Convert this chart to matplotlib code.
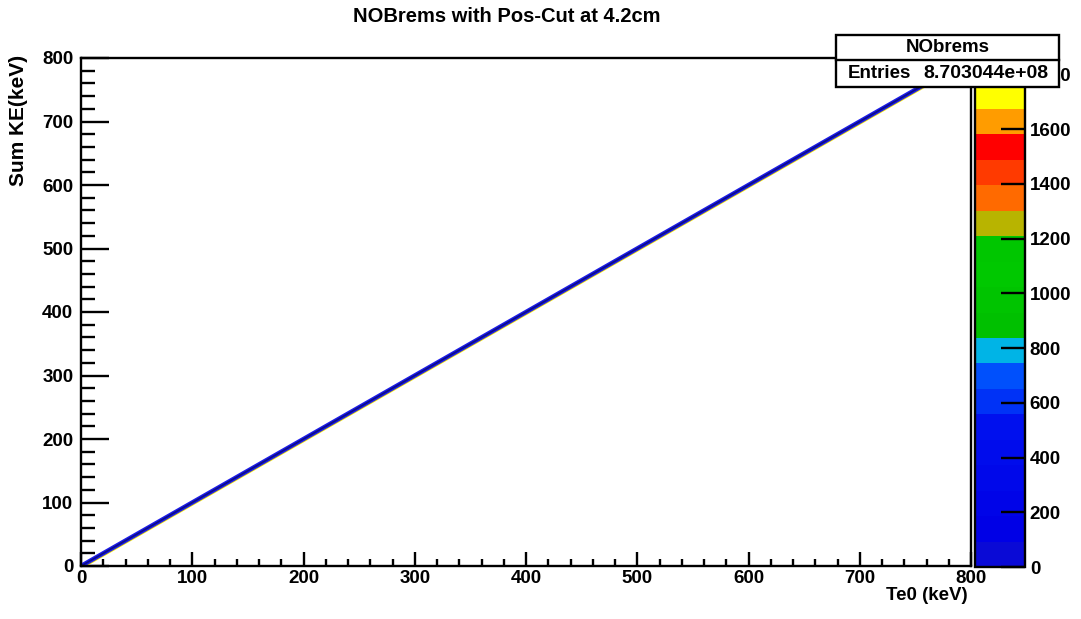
import numpy as np
import matplotlib
matplotlib.use("Agg")
import matplotlib.pyplot as plt
import matplotlib.patheffects as pe
from matplotlib.colors import ListedColormap, BoundaryNorm
from matplotlib.cm import ScalarMappable
from matplotlib.patches import Rectangle
from matplotlib.lines import Line2D

# ---- data -------------------------------------------------------------
te0 = [0, 800]          # Te0 (keV) along the filled diagonal
sum_ke = [0, 800]       # Sum KE (keV) along the filled diagonal
x_ticks = [0, 100, 200, 300, 400, 500, 600, 700, 800]
y_ticks = [0, 100, 200, 300, 400, 500, 600, 700, 800]
z_max = 1860
z_ticks = [0, 200, 400, 600, 800, 1000, 1200, 1400, 1600, 1800]
entries = 8.703044e+08
hist_name = "NObrems"

# ---- palette (20 contour levels) --------------------------------------
band_colors = [
    "#0a0ad6", "#0000e6", "#0004e8", "#0008ea", "#000cec", "#0010ee",
    "#0032f6", "#0050fc", "#00b4e6", "#00c000", "#00c400", "#00c800",
    "#00c600", "#b8b400", "#ff6a00", "#ff3a00", "#ff0000", "#ff9c00",
    "#ffff00", "#ffff00",
]

W, H = 1081, 619
plt.rcParams["font.family"] = ["Liberation Sans", "DejaVu Sans"]
plt.rcParams["font.weight"] = "bold"

fig = plt.figure(figsize=(W / 100, H / 100), dpi=100)


def box(x0, y0, x1, y1):
    return [x0 / W, 1 - y1 / H, (x1 - x0) / W, (y1 - y0) / H]


ax = fig.add_axes(box(81, 58, 971, 566))
cax = fig.add_axes(box(975, 58, 1025, 567))

# ---- main frame ---------------------------------------------------------
ax.plot(te0, sum_ke, color="#0c0c8a", lw=1.2, solid_capstyle="butt",
        path_effects=[
            pe.SimpleLineShadow(offset=(1.0, -1.0), shadow_color="#f2e400",
                                alpha=1.0, rho=1.0, linewidth=1.6),
            pe.Stroke(linewidth=3.2, foreground="#1c1ce6"),
            pe.Normal(),
        ])
ax.set_xlim(0, 800)
ax.set_ylim(0, 800)
ax.set_xticks(x_ticks)
ax.set_yticks(y_ticks)
ax.set_xticks(np.arange(0, 801, 20), minor=True)
ax.set_yticks(np.arange(0, 801, 20), minor=True)
for s in ax.spines.values():
    s.set_linewidth(1.7)
ax.tick_params(axis="both", which="both", direction="in", width=1.7,
               top=False, right=False, labelsize=13.5, colors="black")
ax.tick_params(axis="x", which="major", length=10, pad=3)
ax.tick_params(axis="x", which="minor", length=5)
ax.tick_params(axis="y", which="major", length=20, pad=5.5)
ax.tick_params(axis="y", which="minor", length=10)
for lab in ax.get_xticklabels() + ax.get_yticklabels():
    lab.set_fontweight("bold")

# ---- colour scale -------------------------------------------------------
levels = np.linspace(0, z_max, len(band_colors) + 1)
cmap = ListedColormap(band_colors)
norm = BoundaryNorm(levels, cmap.N)
cb = fig.colorbar(ScalarMappable(norm=norm, cmap=cmap), cax=cax,
                  ticks=z_ticks, spacing="proportional")
cb.outline.set_linewidth(1.7)
cax.tick_params(axis="y", which="both", direction="in", length=17,
                width=1.7, labelsize=13.5, pad=3.5)
cax.minorticks_off()
for lab in cax.get_yticklabels():
    lab.set_fontweight("bold")

# ---- titles -------------------------------------------------------------
fig.text(507 / W, 1 - 16 / H, "NOBrems with Pos-Cut at 4.2cm",
         ha="center", va="center", fontsize=14.5, fontweight="bold")
fig.text(968 / W, 1 - 595 / H, "Te0 (keV)", ha="right", va="center",
         fontsize=13.5, fontweight="bold")
fig.text(19 / W, 1 - 55 / H, "Sum KE(keV)", ha="center", va="top",
         rotation=90, fontsize=15, fontweight="bold")

# ---- statistics box -----------------------------------------------------
bx0, by0, bx1, by1, bmid = 836, 35, 1059, 87, 60
fig.patches.append(Rectangle((bx0 / W, 1 - by1 / H), (bx1 - bx0) / W,
                             (by1 - by0) / H, transform=fig.transFigure,
                             facecolor="white", edgecolor="black",
                             linewidth=1.7, zorder=10))
fig.lines.append(Line2D([bx0 / W, bx1 / W], [1 - bmid / H, 1 - bmid / H],
                        transform=fig.transFigure, color="black",
                        linewidth=1.7, zorder=11))
fig.text((bx0 + bx1) / 2 / W, 1 - 48 / H, hist_name, ha="center",
         va="center", fontsize=13.5, fontweight="bold", zorder=12)
fig.text(848 / W, 1 - 74 / H, "Entries", ha="left", va="center",
         fontsize=13.5, fontweight="bold", zorder=12)
fig.text(1048 / W, 1 - 74 / H, f"{entries:.6e}", ha="right", va="center",
         fontsize=14, fontweight="bold", zorder=12)

fig.savefig("out.png", dpi=100, facecolor="white")
